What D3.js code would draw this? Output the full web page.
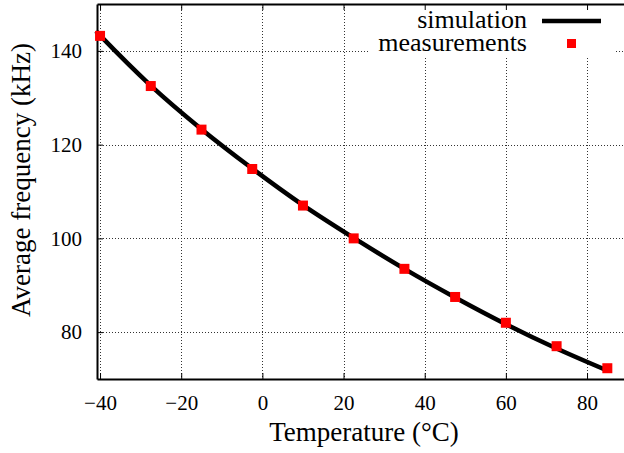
<!DOCTYPE html>
<html>
<head>
<meta charset="utf-8">
<script src="https://cdn.jsdelivr.net/npm/d3@7"></script>
</head>
<body style="margin:0">
<script>
// measured points
var measTemp = [-40, -27.5, -15, -2.5, 10, 22.5, 35, 47.5, 60, 72.5, 85];
var measFreq = [143.2, 132.5, 123.2, 114.8, 107.0, 100.0, 93.5, 87.5, 82.0, 77.0, 72.3];

// simulation curve
var simTemp = [-41, -40, -27.5, -15, -2.5, 10, 22.5, 35, 47.5, 60, 72.5, 85];
var simFreq = [144.2, 143.3, 132.6, 123.3, 114.9, 107.1, 100.1, 93.5, 87.4, 81.7, 76.5, 71.8];

var xTicks = [-40, -20, 0, 20, 40, 60, 80];
var yTicks = [80, 100, 120, 140];

var W = 624, H = 453;
var plotLeft = 97, plotTop = 4, plotBottom = 379;

var $svg = d3.select('body').append('svg')
    .attr('width', W).attr('height', H)
    .style('font-family', 'Liberation Serif');

var x = d3.scaleLinear().domain([-40.75, 90]).range([plotLeft, plotLeft + 130.75 * 4.0583]);
var y = d3.scaleLinear().domain([70, 150]).range([plotBottom, plotTop]);
var plotRight = x.range()[1];

// grid
var grid = $svg.append('g').attr('stroke', '#333').attr('stroke-width', 1)
    .attr('stroke-dasharray', '1,2');
grid.selectAll('.gx').data(xTicks).enter().append('line')
    .attr('x1', function(d) { return Math.round(x(d)) + 0.5; })
    .attr('x2', function(d) { return Math.round(x(d)) + 0.5; })
    .attr('y1', plotTop).attr('y2', plotBottom);
grid.selectAll('.gy').data(yTicks).enter().append('line')
    .attr('y1', function(d) { return Math.round(y(d)) + 0.5; })
    .attr('y2', function(d) { return Math.round(y(d)) + 0.5; })
    .attr('x1', plotLeft).attr('x2', plotRight);

// legend background hides grid
$svg.append('rect').attr('x', 368).attr('y', plotTop + 1).attr('width', 246).attr('height', 51)
    .attr('fill', '#fff');

// axes with inward ticks
var xAxis = $svg.append('g').attr('transform', 'translate(0,' + plotBottom + ')')
    .call(d3.axisBottom(x).tickValues(xTicks).tickSizeInner(-6).tickSizeOuter(0).tickPadding(16)
        .tickFormat(function(d) { return d < 0 ? '\u2212' + Math.abs(d) : d; }));
var xTop = $svg.append('g').attr('transform', 'translate(0,' + plotTop + ')')
    .call(d3.axisTop(x).tickValues(xTicks).tickSizeInner(-6).tickSizeOuter(0).tickFormat(''));
var yAxis = $svg.append('g').attr('transform', 'translate(' + plotLeft + ',0)')
    .call(d3.axisLeft(y).tickValues(yTicks).tickSizeInner(-6).tickSizeOuter(0).tickPadding(15));

[xAxis, xTop, yAxis].forEach(function(a) {
    a.attr('font-family', null).attr('font-size', null);
    a.select('.domain').attr('stroke', '#000').attr('stroke-width', 2);
    a.selectAll('.tick line').attr('stroke', '#000').attr('stroke-width', 1);
    a.selectAll('text').attr('fill', '#000')
        .style('font-family', 'Liberation Serif').style('font-size', '21px');
});
xAxis.selectAll('text').attr('dy', '0.71em');

// simulation line
var line = d3.line()
    .x(function(d, i) { return x(simTemp[i]); })
    .y(function(d) { return y(d); })
    .curve(d3.curveMonotoneX);
$svg.append('path').datum(simFreq)
    .attr('d', line)
    .attr('fill', 'none').attr('stroke', '#000').attr('stroke-width', 4.5);

// measurement markers
var ms = 10;
$svg.selectAll('.m').data(measFreq).enter().append('rect')
    .attr('x', function(d, i) { return x(measTemp[i]) - ms / 2; })
    .attr('y', function(d) { return y(d) - ms / 2; })
    .attr('width', ms).attr('height', ms)
    .attr('fill', '#ff0000');

// text helper
function label(t, xx, yy, anchor, size) {
    return $svg.append('text').attr('x', xx).attr('y', yy).attr('text-anchor', anchor)
        .style('font-family', 'Liberation Serif').style('font-size', size + 'px')
        .attr('fill', '#000').text(t);
}

// legend
label('simulation', 527, 28, 'end', 26);
$svg.append('line').attr('x1', 542).attr('x2', 601).attr('y1', 21).attr('y2', 21)
    .attr('stroke', '#000').attr('stroke-width', 4.5);
label('measurements', 527, 51, 'end', 26);
$svg.append('rect').attr('x', 567).attr('y', 39).attr('width', 9).attr('height', 9)
    .attr('fill', '#ff0000');

// axis titles
label('Temperature (\u00B0C)', 364, 441, 'middle', 27);
label('Average frequency (kHz)', 0, 0, 'middle', 27)
    .attr('transform', 'translate(30,180) rotate(-90)');
</script>
</body>
</html>
